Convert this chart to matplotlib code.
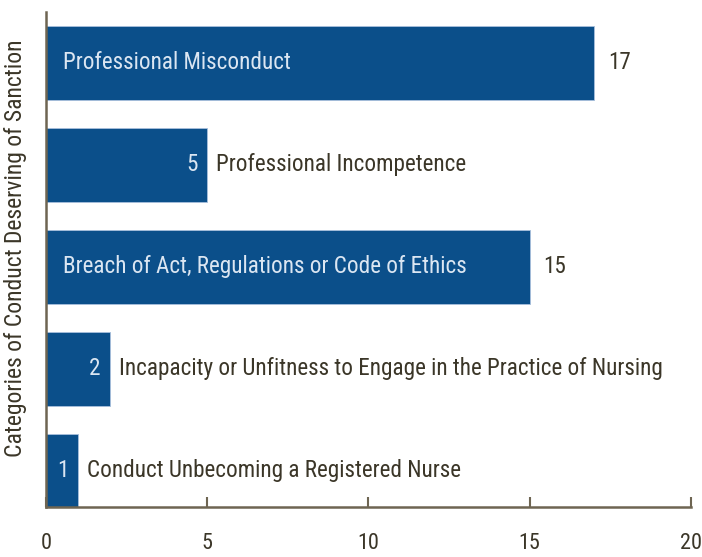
import matplotlib.pyplot as plt
from matplotlib import font_manager

# data, top to bottom as in the chart
categories = [
    "Professional Misconduct",
    "Professional Incompetence",
    "Breach of Act, Regulations or Code of Ethics",
    "Incapacity or Unfitness to Engage in the Practice of Nursing",
    "Conduct Unbecoming a Registered Nurse",
]
counts = [17, 5, 15, 2, 1]
label_inside = [True, False, True, False, False]
x_ticks = [0, 5, 10, 15, 20]

bar_color = "#0b4f8a"
axis_color = "#6e6552"
text_color = "#3b3628"

# narrow font if there is one, else plain Liberation Sans a bit smaller
names = {f.name for f in font_manager.fontManager.ttflist}
narrow = [n for n in ["Liberation Sans Narrow", "Arial Narrow", "Roboto Condensed", "Archivo Narrow"] if n in names]
if narrow:
    family, fs, tfs, yfs = narrow[0], 16.7, 16, 17
else:
    family, fs, tfs, yfs = "Liberation Sans", 14.5, 14, 15
plt.rcParams["font.family"] = [family, "DejaVu Sans"]

fig = plt.figure(figsize=(7.02, 5.57), dpi=100)
ax = fig.add_axes([0.0655, 0.0898, 0.9185, 0.888])

ypos = list(range(len(categories) - 1, -1, -1))
ax.barh(ypos, counts, height=0.73, color=bar_color, edgecolor="#a9c0dc", linewidth=0.6)

for y, name, n, inside in zip(ypos, categories, counts, label_inside):
    if inside:
        ax.annotate(name, (0, y), xytext=(12, 0), textcoords="offset points",
                    ha="left", va="center", color="#dbe6f2", fontsize=fs)
        ax.annotate(str(n), (n, y), xytext=(10, 0), textcoords="offset points",
                    ha="left", va="center", color=text_color, fontsize=fs)
    else:
        ax.annotate(str(n), (n, y), xytext=(-7, 0), textcoords="offset points",
                    ha="right", va="center", color="#dbe6f2", fontsize=fs)
        ax.annotate(name, (n, y), xytext=(6, 0), textcoords="offset points",
                    ha="left", va="center", color=text_color, fontsize=fs)

ax.set_xlim(0, 20)
ax.set_ylim(-0.353, 4.495)
ax.set_xticks(x_ticks)
ax.set_xticklabels([str(t) for t in x_ticks])
ax.set_yticks([])
ax.tick_params(axis="x", direction="in", length=7, width=1.5, color=axis_color,
               labelcolor=text_color, labelsize=tfs, pad=19)
for side in ["top", "right"]:
    ax.spines[side].set_visible(False)
for side in ["left", "bottom"]:
    ax.spines[side].set_color(axis_color)
    ax.spines[side].set_linewidth(1.8)

ax.set_ylabel("Categories of Conduct Deserving of Sanction", color=text_color,
              fontsize=yfs)
ax.yaxis.set_label_coords(-0.029, 0.524)

fig.savefig("out.png", dpi=100)
